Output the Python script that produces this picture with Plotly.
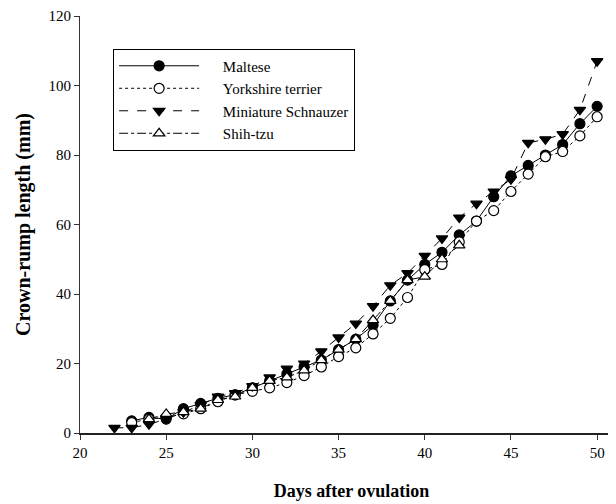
import plotly.graph_objects as go

days_maltese = list(range(23, 51))
maltese = [3.5, 4.5, 4, 7, 8.5, 10, 11, 13, 15, 17, 19, 21, 24, 27, 31, 38, 44, 48.5,
           52, 57, 61, 68, 74, 77, 80, 83, 89, 94]

days_yorkshire = list(range(23, 51))
yorkshire = [3, 4, 4.5, 5.5, 7, 9, 11, 12, 13, 14.5, 16.5, 19, 22, 24.5, 28.5, 33, 39, 47,
             48.5, 55, 61, 64, 69.5, 74.5, 79.5, 81, 85.5, 91]

days_schnauzer = list(range(22, 51))
schnauzer = [1.5, 1.5, 2.5, 4, 6, 8, 10.5, 11.5, 13.5, 16, 18.5, 20, 23.5, 27.5, 31.5, 36.5,
             42.5, 46, 51, 56, 62, 66, 69.5, 73, 83.5, 84.5, 86, 93, 107]

days_shihtzu = list(range(24, 43))
shihtzu = [4, 5.5, 6, 7, 9.5, 10.5, 13, 15, 16, 18, 21, 24, 27, 32.5, 38, 44, 45, 50, 54]

x_ticks = [20, 25, 30, 35, 40, 45, 50]
y_ticks = [0, 20, 40, 60, 80, 100, 120]

serif = "Liberation Serif, Times New Roman, serif"

fig = go.Figure()
series = [
    ("Maltese", days_maltese, maltese, "solid", "circle", "black"),
    ("Yorkshire terrier", days_yorkshire, yorkshire, "dot", "circle", "white"),
    ("Miniature Schnauzer", days_schnauzer, schnauzer, "dash", "triangle-down", "black"),
    ("Shih-tzu", days_shihtzu, shihtzu, "dashdot", "triangle-up", "white"),
]
for name, xs, ys, dash, sym, fill in series:
    fig.add_trace(go.Scatter(
        x=xs, y=ys, mode="lines+markers",
        name="&nbsp;&nbsp;&nbsp;&nbsp;&nbsp;" + name,
        line=dict(color="black", width=1, dash=dash),
        marker=dict(symbol=sym, size=10, color=fill,
                    line=dict(color="black", width=1.2)),
    ))

fig.update_layout(
    width=616, height=504,
    margin=dict(l=72, r=1, t=8, b=79),
    plot_bgcolor="white", paper_bgcolor="white",
    font=dict(family=serif, color="black", size=15),
    showlegend=True,
    legend=dict(
        x=0.061, y=0.922, xanchor="left", yanchor="top",
        bordercolor="black", borderwidth=1, bgcolor="white",
        font=dict(family=serif, size=15, color="black"),
        itemwidth=80,
    ),
    xaxis=dict(
        range=[20, 51.5], tickvals=x_ticks, ticktext=[str(v) for v in x_ticks],
        showgrid=False, zeroline=False, showline=True, linecolor="#222", linewidth=2,
        ticks="outside", ticklen=5, tickcolor="#333",
        tickfont=dict(family=serif, size=15),
        title=dict(text="<b>Days after ovulation</b>", font=dict(family=serif, size=18), standoff=24),
    ),
    yaxis=dict(
        range=[0, 120], tickvals=y_ticks, ticktext=[str(v) for v in y_ticks],
        showgrid=False, zeroline=False, showline=True, linecolor="#333", linewidth=1,
        ticks="outside", ticklen=5, tickcolor="#333",
        tickfont=dict(family=serif, size=15),
        title=dict(text="<b>Crown-rump length (mm)</b>", font=dict(family=serif, size=20), standoff=12),
    ),
)

fig.write_html("out.html")
